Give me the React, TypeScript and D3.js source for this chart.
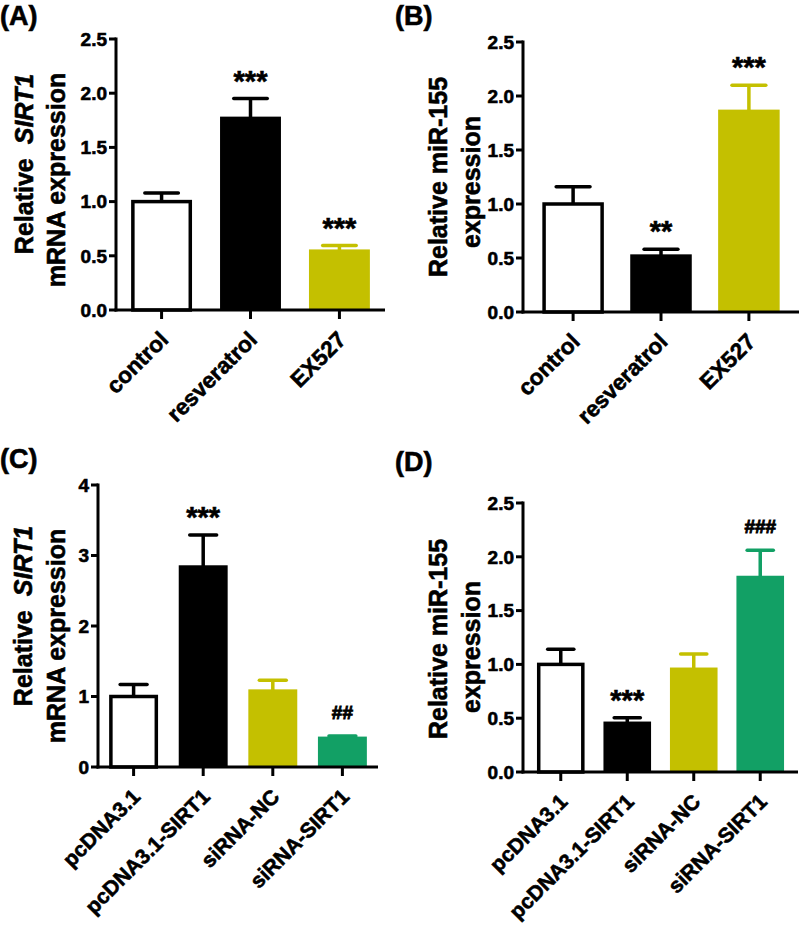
import React from "react";
import * as d3 from "d3";

const catsAB = ["control", "resveratrol", "EX527"];
const catsCD = ["pcDNA3.1", "pcDNA3.1-SIRT1", "siRNA-NC", "siRNA-SIRT1"];

const valuesA = [1.0, 1.77, 0.545];
const errorsA = [0.08, 0.18, 0.05];
const marksA = ["", "***", "***"];

const valuesB = [1.0, 0.52, 1.86];
const errorsB = [0.16, 0.06, 0.24];
const marksB = ["", "**", "***"];

const valuesC = [1.0, 2.84, 1.08, 0.41];
const errorsC = [0.17, 0.45, 0.15, 0.03];
const marksC = ["", "***", "", "##"];

const valuesD = [1.0, 0.455, 0.957, 1.81];
const errorsD = [0.14, 0.05, 0.14, 0.25];
const marksD = ["", "***", "", "###"];

const ticksA = [0, 0.5, 1.0, 1.5, 2.0, 2.5];
const ticksC = [0, 1, 2, 3, 4];

const WHITE = "#ffffff";
const BLACK = "#000000";
const OLIVE = "#c4c000";
const GREEN = "#12a065";
const fillsAB = [WHITE, BLACK, OLIVE];
const fillsCD = [WHITE, BLACK, OLIVE, GREEN];

const FONT = "'Liberation Sans', Arial, sans-serif";
const HEAVY = { stroke: "#000", strokeWidth: 0.6 } as const;

type PanelProps = {
  label: string;
  labelX: number;
  labelY: number;
  cats: string[];
  values: number[];
  errors: number[];
  marks: string[];
  fills: string[];
  ticks: number[];
  yMax: number;
  fmt: string;
  x0: number;
  x1: number;
  yTop: number;
  yBottom: number;
  padInner: number;
  padOuter: number;
  catSize: number;
  yLines: { parts: { t: string; italic?: boolean; dx?: number }[]; cx: number; cy: number }[];
};

function Panel(p: PanelProps) {
  const x = d3.scaleBand<string>().domain(p.cats).range([p.x0, p.x1]).paddingInner(p.padInner).paddingOuter(p.padOuter);
  const y = d3.scaleLinear().domain([0, p.yMax]).range([p.yBottom, p.yTop]);
  const bw = x.bandwidth();
  const f = d3.format(p.fmt);
  const capW = bw * 0.55;
  return (
    <g>
      <text x={p.labelX} y={p.labelY} fontFamily={FONT} fontWeight="bold" fontSize={27} {...HEAVY}>{p.label}</text>
      {p.yLines.map((ln, i) => (
        <text key={i} transform={`translate(${ln.cx},${ln.cy}) rotate(-90)`} textAnchor="middle" dominantBaseline="central"
          fontFamily={FONT} fontWeight="bold" fontSize={25} {...HEAVY}>
          {ln.parts.map((pt, j) => (
            <tspan key={j} fontStyle={pt.italic ? "italic" : "normal"} dx={pt.dx || 0}>{pt.t}</tspan>
          ))}
        </text>
      ))}
      {p.cats.map((c, i) => {
        const xb = x(c)!;
        const top = y(p.values[i]);
        const isWhite = p.fills[i] === WHITE;
        const errCol = isWhite ? BLACK : p.fills[i];
        const cx = xb + bw / 2;
        const et = y(p.values[i] + p.errors[i]);
        return (
          <g key={c}>
            <line x1={cx} x2={cx} y1={top} y2={et} stroke={errCol} strokeWidth={3.5} />
            <line x1={cx - capW / 2} x2={cx + capW / 2} y1={et} y2={et} stroke={errCol} strokeWidth={3.5} strokeLinecap="round" />
            {isWhite ? (
              <rect x={xb + 1.75} y={top} width={bw - 3.5} height={p.yBottom - top} fill={WHITE} stroke={BLACK} strokeWidth={3.5} />
            ) : (
              <rect x={xb} y={top - 1.5} width={bw} height={p.yBottom - top + 1.5} fill={p.fills[i]} />
            )}
            {p.marks[i] ? (
              p.marks[i].startsWith("*") ? (
                <text x={cx} y={et - 8} textAnchor="middle" fontFamily={FONT} fontWeight="bold" fontSize={29} {...HEAVY}>{p.marks[i]}</text>
              ) : (
                <text x={cx} y={et - 17} textAnchor="middle" fontFamily={FONT} fontWeight="bold" fontSize={19}
                  stroke="#000" strokeWidth={0.9}>{p.marks[i]}</text>
              )
            ) : null}
          </g>
        );
      })}
      <line x1={p.x0} x2={p.x0} y1={p.yTop - 1.5} y2={p.yBottom + 1.5} stroke={BLACK} strokeWidth={3} />
      {p.ticks.map((t) => (
        <g key={t}>
          <line x1={p.x0 - 7} x2={p.x0} y1={y(t)} y2={y(t)} stroke={BLACK} strokeWidth={3} />
          <text x={p.x0 - 9} y={y(t)} dy="0.36em" textAnchor="end" fontFamily={FONT} fontWeight="bold" fontSize={19} {...HEAVY}>{f(t)}</text>
        </g>
      ))}
      <line x1={p.x0 - 1.5} x2={p.x1} y1={p.yBottom} y2={p.yBottom} stroke={BLACK} strokeWidth={3} />
      {p.cats.map((c) => {
        const cx = x(c)! + bw / 2;
        return (
          <g key={"t" + c}>
            <line x1={cx} x2={cx} y1={p.yBottom} y2={p.yBottom + 9} stroke={BLACK} strokeWidth={3} />
            <text transform={`translate(${cx + 8},${p.yBottom + 31}) rotate(-45)`} textAnchor="end"
              fontFamily={FONT} fontWeight="bold" fontSize={p.catSize} {...HEAVY}>{c}</text>
          </g>
        );
      })}
    </g>
  );
}

export default function App() {
  const sirtLines = (cx1: number, cy1: number, cx2: number, cy2: number) => [
    { parts: [{ t: "Relative" }, { t: "SIRT1", italic: true, dx: 14 }], cx: cx1, cy: cy1 },
    { parts: [{ t: "mRNA expression" }], cx: cx2, cy: cy2 },
  ];
  const mirLines = (cx1: number, cy1: number, cx2: number, cy2: number) => [
    { parts: [{ t: "Relative miR-155" }], cx: cx1, cy: cy1 },
    { parts: [{ t: "expression" }], cx: cx2, cy: cy2 },
  ];
  return (
    <svg width={800} height={931} style={{ position: "absolute", left: 0, top: 0, background: "#fff" }}>
      <rect x={0} y={0} width={800} height={931} fill="#fff" />
      <Panel label="(A)" labelX={0} labelY={25} cats={catsAB} values={valuesA} errors={errorsA} marks={marksA}
        fills={fillsAB} ticks={ticksA} yMax={2.5} fmt=".1f" x0={116} x1={385} yTop={39} yBottom={310}
        padInner={0.315} padOuter={0.17} catSize={22.5} yLines={sirtLines(24, 164, 56, 180)} />
      <Panel label="(B)" labelX={395} labelY={25} cats={catsAB} values={valuesB} errors={errorsB} marks={marksB}
        fills={fillsAB} ticks={ticksA} yMax={2.5} fmt=".1f" x0={523} x1={799} yTop={42} yBottom={312}
        padInner={0.3} padOuter={0.22} catSize={22.5} yLines={mirLines(438, 177, 471, 182)} />
      <Panel label="(C)" labelX={0} labelY={468} cats={catsCD} values={valuesC} errors={errorsC} marks={marksC}
        fills={fillsCD} ticks={ticksC} yMax={4} fmt="d" x0={98} x1={378} yTop={485} yBottom={767}
        padInner={0.297} padOuter={0.16} catSize={21} yLines={sirtLines(23, 616, 56, 636)} />
      <Panel label="(D)" labelX={395} labelY={471} cats={catsCD} values={valuesD} errors={errorsD} marks={marksD}
        fills={fillsCD} ticks={ticksA} yMax={2.5} fmt=".1f" x0={523} x1={798} yTop={503} yBottom={772}
        padInner={0.284} padOuter={0.21} catSize={21} yLines={mirLines(438, 639, 471, 647)} />
    </svg>
  );
}
